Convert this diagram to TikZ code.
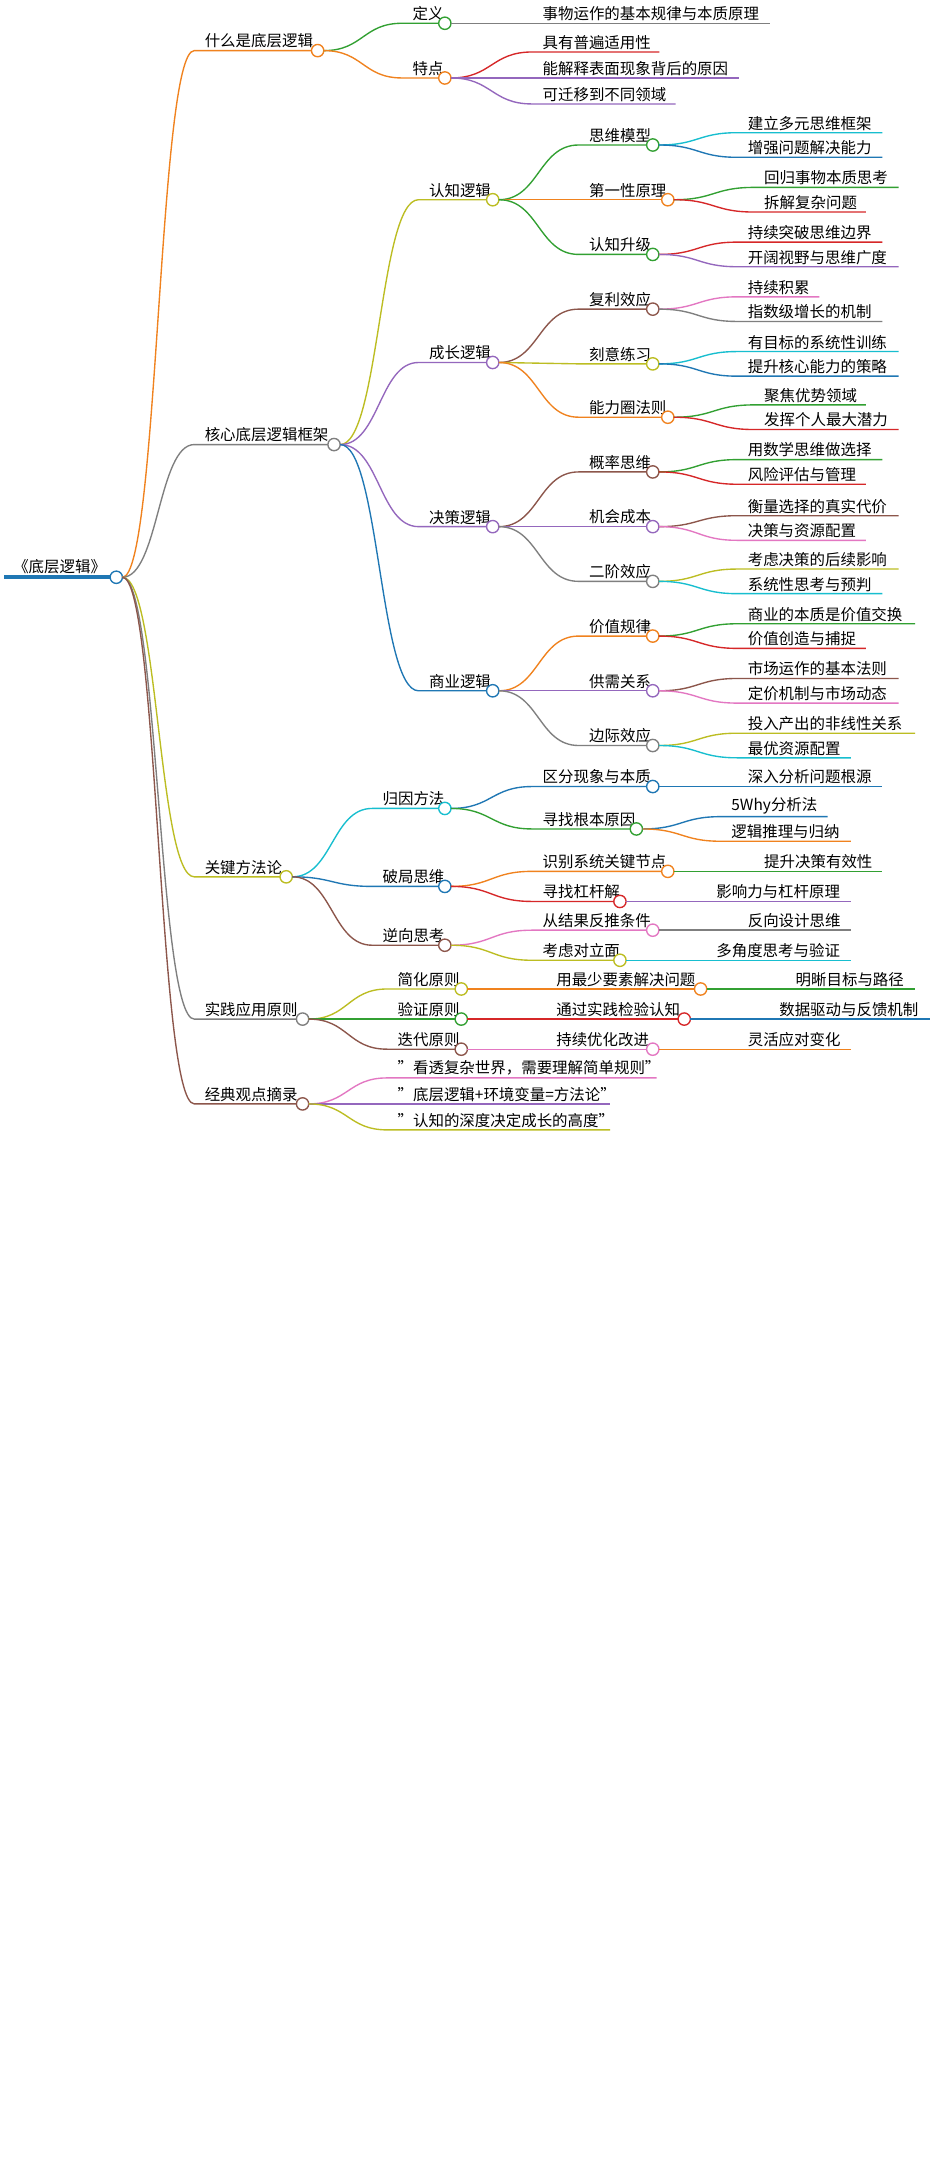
\documentclass[tikz,border=0pt]{standalone}
\usepackage{fontspec}
\setmainfont{Noto Sans CJK SC}
\usetikzlibrary{calc}
\definecolor{cor}{RGB}{240,130,30}
\definecolor{cgr}{RGB}{50,160,50}
\definecolor{crd}{RGB}{214,39,40}
\definecolor{cpu}{RGB}{148,103,189}
\definecolor{cbr}{RGB}{140,86,75}
\definecolor{cpk}{RGB}{227,119,194}
\definecolor{cgy}{RGB}{127,127,127}
\definecolor{col}{RGB}{188,189,34}
\definecolor{ccy}{RGB}{23,190,207}
\definecolor{cbl}{RGB}{31,119,180}
\tikzset{lbl/.style={anchor=south west,inner sep=1.5pt,font=\fontsize{11.3}{13}\selectfont,text=black},
 knob/.style={fill=white,line width=1pt}}
% name, parent, textx, y, endx, color, text, circle
\newcommand\mn[8]{%
 \coordinate (#1s) at ({#3-6},#4);
 \draw[#6,line width=1pt] let \p1=(#2), \p2=(#1s) in (\p1) .. controls ({(\x1+\x2)/2},\y1) and ({(\x1+\x2)/2},\y2) .. (\p2) -- ({#5},#4);
 \node[lbl] (#1t) at (#3,#4) {#7};
 \ifnum#8=1
 \draw[#6,knob] ({#5+0.2},#4) circle (4.5);
 \coordinate (#1) at ({#5+4.7},#4);
 \fi}
\begin{document}
\begin{tikzpicture}[x=1pt,y=-1pt]
\useasboundingbox[fill=white] (0,0) rectangle (690,1582);
\draw[cbl,line width=3pt] (3,422) -- (80.5,422);
\node[lbl] (rt) at (8,421) {《底层逻辑》};
\draw[cbl,knob] (85,422) circle (4.5);
\coordinate (r) at (89.5,422);
% L1
\mn{A}{r}{148}{37}{232}{cor}{什么是底层逻辑}{1}
\mn{B}{r}{148}{325}{244}{cgy}{核心底层逻辑框架}{1}
\mn{C}{r}{148}{641}{209}{col}{关键方法论}{1}
\mn{D}{r}{148}{745}{221}{cgy}{实践应用原则}{1}
\mn{E}{r}{148}{807}{221}{cbr}{经典观点摘录}{1}
% A
\mn{A1}{A}{300}{17}{325}{cgr}{定义}{1}
\mn{A2}{A}{300}{57}{325}{cor}{特点}{1}
\mn{A11}{A1}{395}{17}{563}{cgy}{事物运作的基本规律与本质原理}{0}
\mn{A21}{A2}{395}{38}{482}{crd}{具有普遍适用性}{0}
\mn{A22}{A2}{395}{57}{540}{cpu}{能解释表面现象背后的原因}{0}
\mn{A23}{A2}{395}{76}{494}{cpu}{可迁移到不同领域}{0}
% B
\mn{B1}{B}{312}{146}{360}{col}{认知逻辑}{1}
\mn{B2}{B}{312}{265}{360}{cpu}{成长逻辑}{1}
\mn{B3}{B}{312}{385}{360}{cpu}{决策逻辑}{1}
\mn{B4}{B}{312}{505}{360}{cbl}{商业逻辑}{1}
\mn{B11}{B1}{429}{106}{477}{cgr}{思维模型}{1}
\mn{B12}{B1}{429}{146}{488}{cor}{第一性原理}{1}
\mn{B13}{B1}{429}{186}{477}{cgr}{认知升级}{1}
\mn{B111}{B11}{545}{97}{645}{ccy}{建立多元思维框架}{0}
\mn{B112}{B11}{545}{115}{645}{cbl}{增强问题解决能力}{0}
\mn{B121}{B12}{557}{137}{657}{cgr}{回归事物本质思考}{0}
\mn{B122}{B12}{557}{155}{633}{crd}{拆解复杂问题}{0}
\mn{B131}{B13}{545}{177}{645}{crd}{持续突破思维边界}{0}
\mn{B132}{B13}{545}{195}{657}{cpu}{开阔视野与思维广度}{0}
\mn{B21}{B2}{429}{226}{477}{cbr}{复利效应}{1}
\mn{B22}{B2}{429}{266}{477}{col}{刻意练习}{1}
\mn{B23}{B2}{429}{305}{488}{cor}{能力圈法则}{1}
\mn{B211}{B21}{545}{217}{599}{cpk}{持续积累}{0}
\mn{B212}{B21}{545}{235}{645}{cgy}{指数级增长的机制}{0}
\mn{B221}{B22}{545}{257}{657}{ccy}{有目标的系统性训练}{0}
\mn{B222}{B22}{545}{275}{657}{cbl}{提升核心能力的策略}{0}
\mn{B231}{B23}{557}{296}{633}{cgr}{聚焦优势领域}{0}
\mn{B232}{B23}{557}{314}{657}{crd}{发挥个人最大潜力}{0}
\mn{B31}{B3}{429}{345}{477}{cbr}{概率思维}{1}
\mn{B32}{B3}{429}{385}{477}{cpu}{机会成本}{1}
\mn{B33}{B3}{429}{425}{477}{cgy}{二阶效应}{1}
\mn{B311}{B31}{545}{336}{645}{cgr}{用数学思维做选择}{0}
\mn{B312}{B31}{545}{354}{633}{crd}{风险评估与管理}{0}
\mn{B321}{B32}{545}{377}{657}{cbr}{衡量选择的真实代价}{0}
\mn{B322}{B32}{545}{395}{633}{cpk}{决策与资源配置}{0}
\mn{B331}{B33}{545}{416}{657}{col}{考虑决策的后续影响}{0}
\mn{B332}{B33}{545}{434}{645}{ccy}{系统性思考与预判}{0}
\mn{B41}{B4}{429}{465}{477}{cor}{价值规律}{1}
\mn{B42}{B4}{429}{505}{477}{cpu}{供需关系}{1}
\mn{B43}{B4}{429}{545}{477}{cgy}{边际效应}{1}
\mn{B411}{B41}{545}{456}{669}{cgr}{商业的本质是价值交换}{0}
\mn{B412}{B41}{545}{474}{633}{crd}{价值创造与捕捉}{0}
\mn{B421}{B42}{545}{496}{657}{cbr}{市场运作的基本法则}{0}
\mn{B422}{B42}{545}{514}{657}{cpk}{定价机制与市场动态}{0}
\mn{B431}{B43}{545}{536}{669}{col}{投入产出的非线性关系}{0}
\mn{B432}{B43}{545}{554}{622}{ccy}{最优资源配置}{0}
% C
\mn{C1}{C}{278}{591}{325}{ccy}{归因方法}{1}
\mn{C2}{C}{278}{648}{325}{cbl}{破局思维}{1}
\mn{C3}{C}{278}{691}{325}{cbr}{逆向思考}{1}
\mn{C11}{C1}{395}{575}{477}{cbl}{区分现象与本质}{1}
\mn{C12}{C1}{395}{606}{465}{cgr}{寻找根本原因}{1}
\mn{C111}{C11}{545}{575}{645}{cbl}{深入分析问题根源}{0}
\mn{C121}{C12}{533}{597}{605}{cbl}{5Why分析法}{0}
\mn{C122}{C12}{533}{615}{622}{cor}{逻辑推理与归纳}{0}
\mn{C21}{C2}{395}{637}{488}{cor}{识别系统关键节点}{1}
\mn{C22}{C2}{395}{659}{453}{crd}{寻找杠杆解}{1}
\mn{C211}{C21}{557}{637}{645}{cgr}{提升决策有效性}{0}
\mn{C221}{C22}{522}{659}{622}{cpu}{影响力与杠杆原理}{0}
\mn{C31}{C3}{395}{680}{477}{cpk}{从结果反推条件}{1}
\mn{C32}{C3}{395}{702}{453}{col}{考虑对立面}{1}
\mn{C311}{C31}{545}{680}{622}{cgy}{反向设计思维}{0}
\mn{C321}{C32}{522}{702}{622}{ccy}{多角度思考与验证}{0}
% D
\mn{D1}{D}{289}{723}{337}{col}{简化原则}{1}
\mn{D2}{D}{289}{745}{337}{cgr}{验证原则}{1}
\mn{D3}{D}{289}{767}{337}{cbr}{迭代原则}{1}
\mn{D11}{D1}{405}{723}{512}{cor}{用最少要素解决问题}{1}
\mn{D21}{D2}{405}{745}{500}{crd}{通过实践检验认知}{1}
\mn{D31}{D3}{405}{767}{477}{cpk}{持续优化改进}{1}
\mn{D111}{D11}{580}{723}{669}{cgr}{明晰目标与路径}{0}
\mn{D211}{D21}{568}{745}{680}{cbl}{数据驱动与反馈机制}{0}
\mn{D311}{D31}{545}{767}{622}{cor}{灵活应对变化}{0}
% E
\mn{E1}{E}{289}{788}{480}{cpk}{"看透复杂世界，需要理解简单规则"}{0}
\mn{E2}{E}{289}{807}{446}{cpu}{"底层逻辑+环境变量=方法论"}{0}
\mn{E3}{E}{289}{826}{446}{col}{"认知的深度决定成长的高度"}{0}
\end{tikzpicture}
\end{document}
